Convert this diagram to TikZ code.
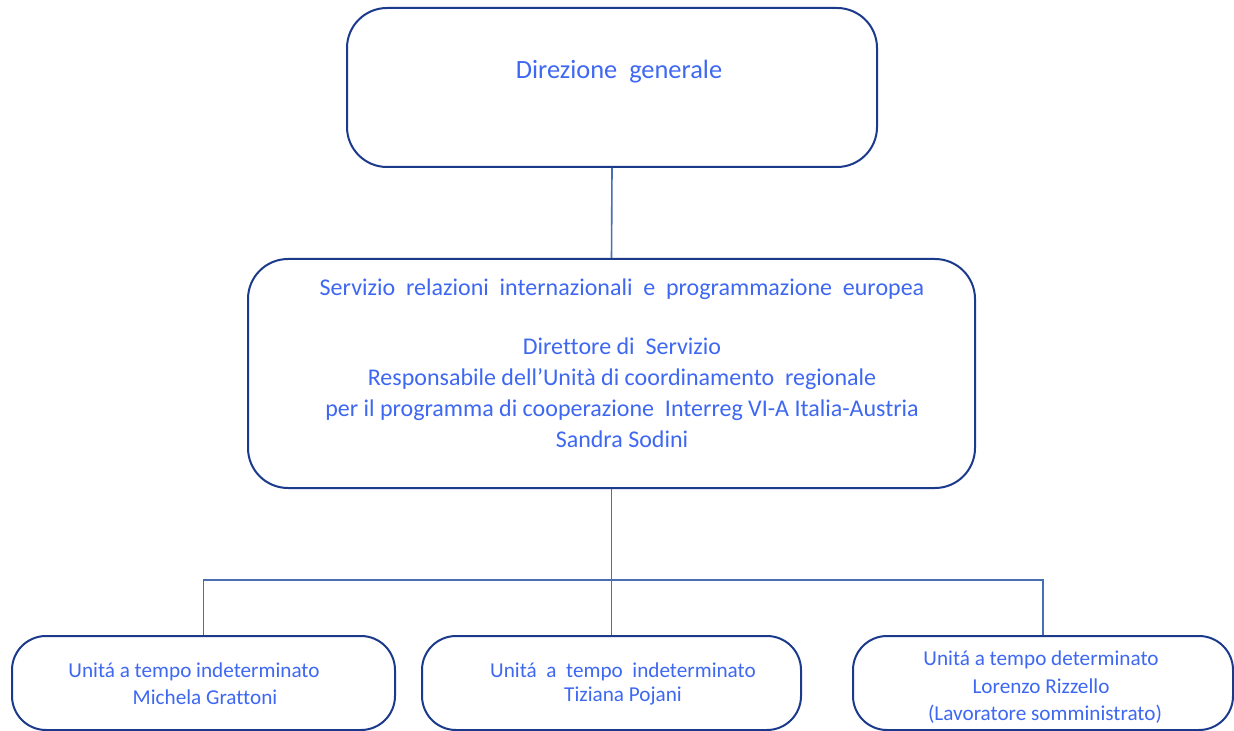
\documentclass[tikz,border=0pt]{standalone}
\usepackage{fontspec}
\setmainfont[Ligatures=NoCommon]{Carlito}
\definecolor{txtblue}{RGB}{62,104,242}
\definecolor{framenavy}{RGB}{28,58,140}
\definecolor{connblue}{RGB}{72,110,180}
\begin{document}
\begin{tikzpicture}[x=0.5pt,y=-0.5pt,
  orgbox/.style={draw=framenavy,line width=1pt,fill=white,inner sep=0pt},
  conn/.style={draw=connblue,line width=0.8pt},
  lbl/.style={text=txtblue,inner sep=0pt,align=center}]
\useasboundingbox (0,0) rectangle (1234,731);
% boxes
\node[orgbox,rounded corners=20pt,minimum width=265pt,minimum height=79.5pt] (top) at (612,87.5) {};
\node[orgbox,rounded corners=20pt,minimum width=363.5pt,minimum height=114.5pt] (mid) at (611.5,373.5) {};
\node[orgbox,rounded corners=17pt,minimum width=191.5pt,minimum height=47pt] (b1) at (203.5,683) {};
\node[orgbox,rounded corners=17pt,minimum width=189.5pt,minimum height=47pt] (b2) at (611.5,683) {};
\node[orgbox,rounded corners=17pt,minimum width=190pt,minimum height=47pt] (b3) at (1043,683) {};
% connectors
\coordinate (bus) at (611.5,580);
\draw[conn] (top.south) -- (mid.north);
\draw[conn] (mid.south) -- (b2.north);
\draw[conn] (b1.north) |- (bus) -| (b3.north);
% texts
\node[lbl,font=\fontsize{13.2}{15.5}\selectfont] (ttop) at (619,72) {Direzione\ \ generale};
\node[lbl,font=\fontsize{12}{15.5}\selectfont] (tmid) at (622,363)
  {Servizio\ \ relazioni\ \ internazionali\ \ e\ \ programmazione\ \ europea\\[14pt]
   Direttore di\ \ Servizio\\
   Responsabile dell’Unità di coordinamento\ \ regionale\\
   per il programma di cooperazione\ \ Interreg VI-A Italia-Austria\\
   Sandra Sodini};
\node[lbl,font=\fontsize{10.6}{13.5}\selectfont] (tb1) at (194,683.5)
  {Unitá a tempo indeterminato\\ \hspace*{11pt}Michela Grattoni};
\node[lbl,font=\fontsize{10.6}{12}\selectfont] (tb2) at (623,684)
  {Unitá\ \ a\ \ tempo\ \ indeterminato\\ Tiziana Pojani};
\node[lbl,font=\fontsize{10.6}{13.8}\selectfont] (tb3) at (1041,687.5)
  {Unitá a tempo determinato\\ Lorenzo Rizzello\\ \hspace*{4pt}(Lavoratore somministrato)};
\end{tikzpicture}
\end{document}
